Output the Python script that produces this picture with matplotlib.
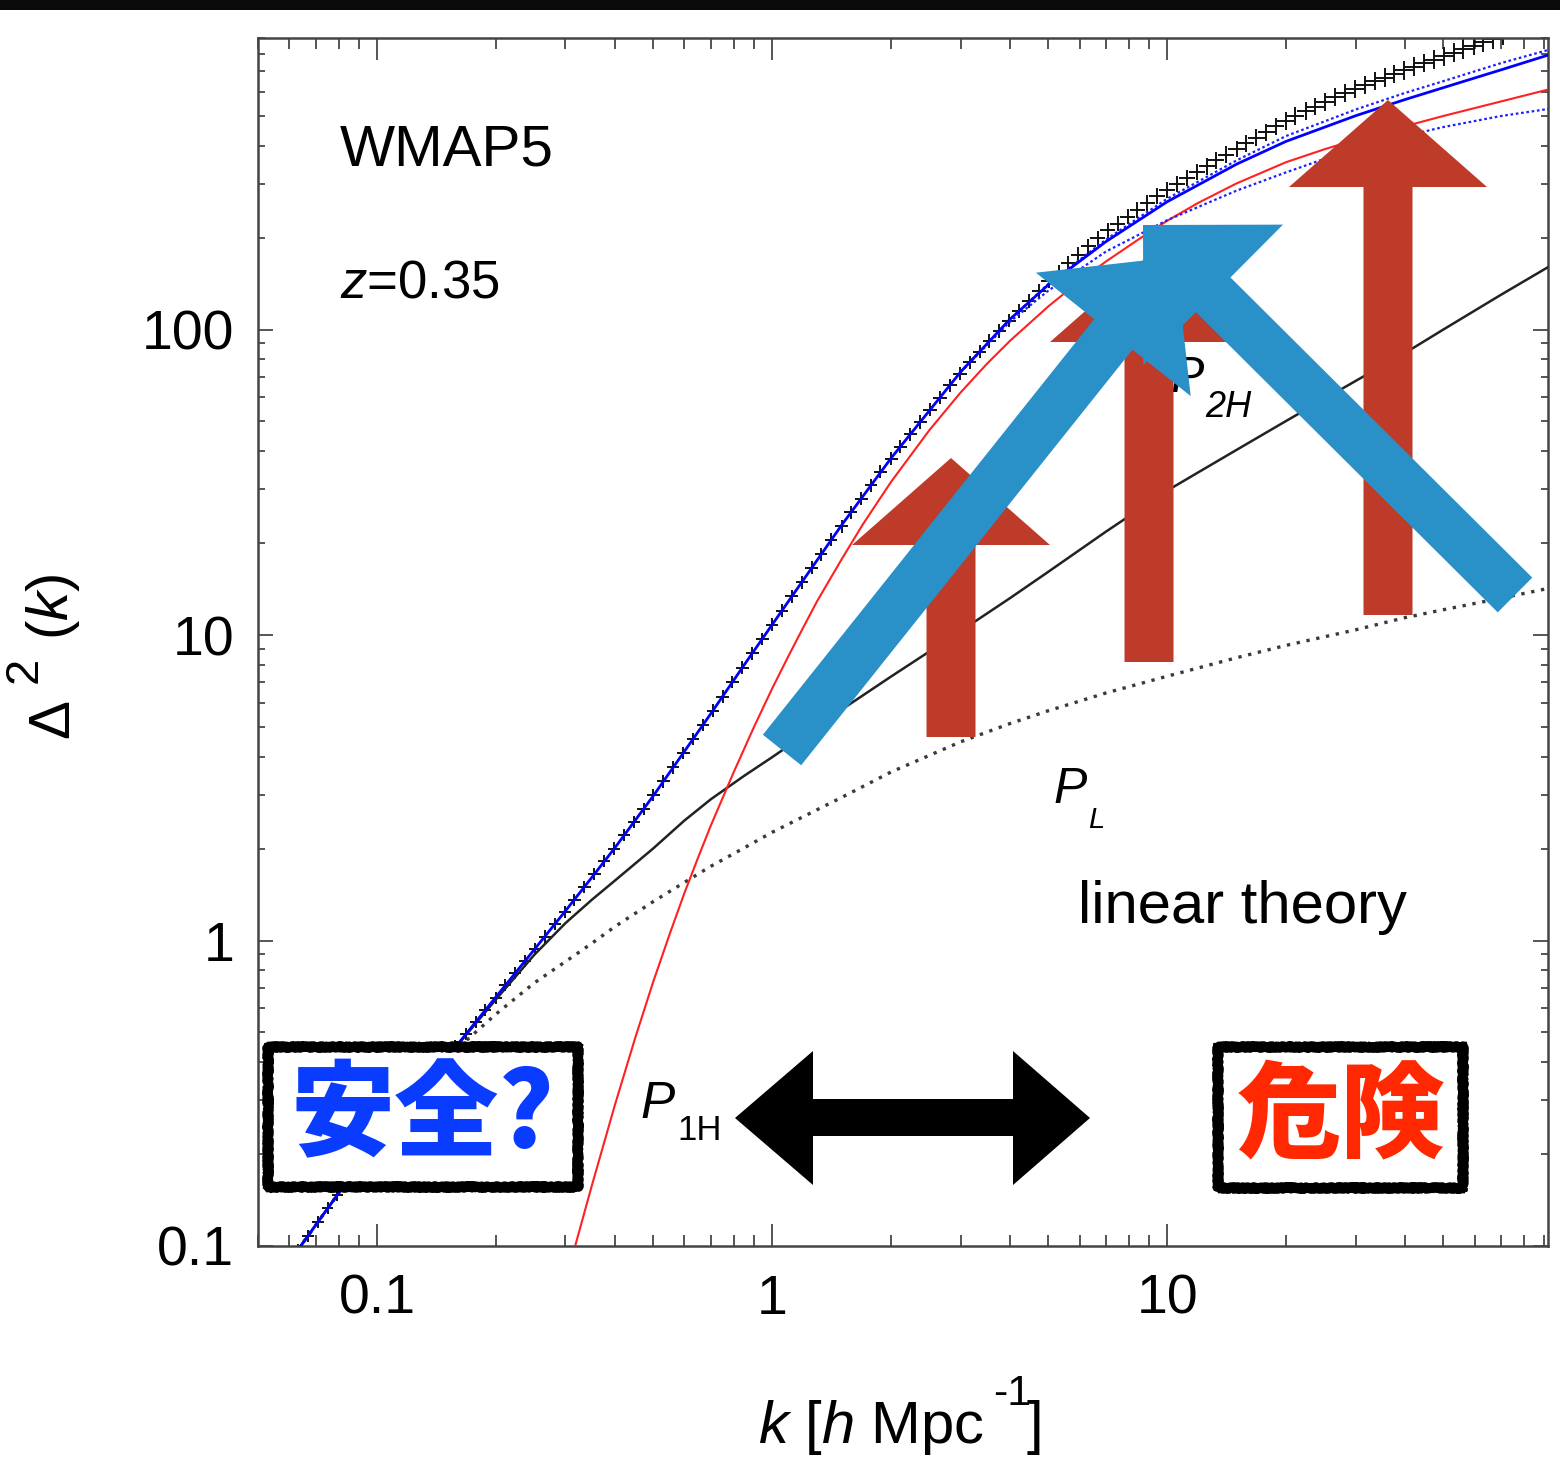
import matplotlib.pyplot as plt
import numpy as np
from matplotlib.patches import FancyArrow, Polygon, Rectangle
from matplotlib.ticker import NullFormatter
from matplotlib.transforms import Affine2D

plt.rcParams['font.family'] = ['Liberation Sans', 'DejaVu Sans']
plt.rcParams['mathtext.fontset'] = 'custom'
plt.rcParams['mathtext.rm'] = 'Liberation Sans'
plt.rcParams['mathtext.it'] = 'Liberation Sans:italic'

# model curves, Delta^2(k) on a common k grid [h/Mpc]
k_model = [0.05, 0.06, 0.08, 0.1, 0.15, 0.2, 0.25, 0.3, 0.35, 0.4, 0.5, 0.6,
           0.7, 0.85, 1, 1.5, 2, 3, 4, 5, 7, 10, 15, 20, 30, 40, 50, 70, 92]
halo_total = [0.0628, 0.0887, 0.149, 0.215, 0.412, 0.653, 0.933, 1.25, 1.61,
              2.01, 2.97, 4.16, 5.53, 7.98, 10.8, 22.9, 37.9, 72.6, 108, 140,
              194, 262, 348, 413, 501, 566, 619, 708, 791]
two_halo = [0.0628, 0.0887, 0.149, 0.215, 0.412, 0.641, 0.897, 1.14, 1.36,
            1.57, 2.0, 2.47, 2.90, 3.46, 3.98, 5.70, 7.31, 10.3, 13.2, 16.1,
            21.8, 29.7, 40.4, 50.2, 67.9, 83.8, 100, 130, 160]
linear = [0.0628, 0.0887, 0.149, 0.215, 0.412, 0.574, 0.726, 0.853, 0.979,
          1.11, 1.34, 1.55, 1.75, 2.01, 2.26, 2.94, 3.56, 4.47, 5.13, 5.65,
          6.46, 7.33, 8.43, 9.25, 10.4, 11.4, 12.1, 13.2, 14.2]

# one-halo term
k_1h = [0.3, 0.35, 0.4, 0.45, 0.5, 0.55, 0.6, 0.65, 0.7, 0.8, 0.9, 1, 1.1, 1.2,
        1.3, 1.5, 1.7, 2, 2.5, 3, 3.5, 4, 5, 6, 7, 8.5, 10, 12, 15, 20, 25, 30,
        40, 50, 70, 92]
one_halo = [0.0767, 0.158, 0.289, 0.478, 0.731, 1.045, 1.43, 1.87, 2.38, 3.56,
            5.00, 6.67, 8.53, 10.6, 12.9, 17.7, 23.1, 31.7, 46.8, 62.2, 77.3,
            91.8, 119, 144, 167, 198, 227, 260, 301, 353, 389, 418, 463, 500,
            558, 610]

# variants of the halo model at small scales
k_var = [3, 4, 5, 7, 10, 15, 20, 30, 40, 50, 70, 92]
halo_upper = [72.6, 108, 141, 197, 268, 358, 430, 525, 595, 650, 745, 822]
halo_lower = [72.6, 106, 134, 180, 228, 285, 327, 393, 430, 460, 500, 527]

# simulation measurements
k_sim = [0.0631, 0.0668, 0.0708, 0.0750, 0.0794, 0.0841, 0.0891, 0.0944, 0.1,
         0.106, 0.112, 0.119, 0.126, 0.133, 0.141, 0.150, 0.158, 0.168, 0.178,
         0.188, 0.2, 0.211, 0.224, 0.237, 0.251, 0.266, 0.282, 0.299, 0.316,
         0.335, 0.355, 0.376, 0.398, 0.422, 0.447, 0.473, 0.501, 0.531, 0.562,
         0.596, 0.631, 0.668, 0.708, 0.750, 0.794, 0.841, 0.891, 0.944, 1.0,
         1.06, 1.12, 1.19, 1.26, 1.33, 1.41, 1.50, 1.58, 1.68, 1.78, 1.88, 2.0,
         2.11, 2.24, 2.37, 2.51, 2.66, 2.82, 2.99, 3.16, 3.35, 3.55, 3.76, 3.98,
         4.22, 4.47, 4.73, 5.01, 5.31, 5.62, 5.96, 6.31, 6.68, 7.08, 7.50, 7.94,
         8.41, 8.91, 9.44, 10.0, 10.6, 11.2, 11.9, 12.6, 13.3, 14.1, 15.0, 15.8,
         16.8, 17.8, 18.8, 20.0, 21.1, 22.4, 23.7, 25.1, 26.6, 28.2, 29.9, 31.6,
         33.5, 35.5, 37.6, 39.8, 42.2, 44.7, 47.3, 50.1, 53.1, 56.2, 59.6, 63.1,
         66.8, 70.8]
d2_sim = [0.0973, 0.108, 0.120, 0.133, 0.147, 0.162, 0.178, 0.196, 0.215,
          0.236, 0.259, 0.284, 0.311, 0.341, 0.374, 0.410, 0.450, 0.493, 0.541,
          0.593, 0.650, 0.713, 0.782, 0.857, 0.940, 1.03, 1.13, 1.24, 1.36,
          1.50, 1.65, 1.82, 2.00, 2.21, 2.44, 2.70, 2.99, 3.32, 3.69, 4.11,
          4.57, 5.08, 5.65, 6.29, 7.01, 7.81, 8.71, 9.70, 10.8, 12.0, 13.4,
          14.9, 16.6, 18.4, 20.5, 22.7, 25.2, 27.9, 30.9, 34.2, 37.8, 41.4,
          45.4, 49.8, 54.6, 59.8, 65.6, 71.6, 78.2, 84.6, 91.6, 99.0, 107, 115,
          124, 134, 144, 154, 165, 176, 187, 199, 211, 222, 234, 246, 259, 273,
          287, 300, 313, 327, 342, 358, 374, 390, 407, 425, 443, 462, 482, 500,
          519, 537, 556, 576, 596, 614, 632, 650, 668, 687, 706, 725, 745, 765,
          785, 806, 828, 849, 871, 893, 916]

W, H = 1560, 1468
fig = plt.figure(figsize=(W / 100, H / 100), dpi=100)
ax = fig.add_axes([258 / W, 222 / H, 1290 / W, 1208 / H])
# pixel coordinates measured from the top-left corner of the figure
px = Affine2D().scale(0.01, -0.01).translate(0, H / 100) + fig.dpi_scale_trans

# markers grow a little towards small scales
sizes = np.interp(np.log10(k_sim), [-1.2, 0.5, 1.85], [70, 90, 200])
ax.scatter(k_sim, d2_sim, s=sizes, marker='+', linewidths=1.4, color='#111111', zorder=2)
ax.plot(k_model, linear, color='#3a3a3a', lw=2.4, ls=(0, (1, 2)), zorder=3)
ax.plot(k_model, two_halo, color='#222222', lw=1.8, zorder=3)
ax.plot(k_1h, one_halo, color='#ff2020', lw=1.5, zorder=3)
ax.plot(k_var, halo_upper, color='#2020ff', lw=1.6, ls=(0, (1.2, 1.2)), zorder=3)
ax.plot(k_var, halo_lower, color='#2020ff', lw=1.6, ls=(0, (1.2, 1.2)), zorder=3)
ax.plot(k_model, halo_total, color='#0000ff', lw=2.0, zorder=4)

ax.set_xscale('log')
ax.set_yscale('log')
ax.set_xlim(0.05, 92)
ax.set_ylim(0.1, 900)
ax.set_xticks([0.1, 1, 10])
ax.set_xticklabels(['0.1', '1', '10'])
ax.set_yticks([0.1, 1, 10, 100])
ax.set_yticklabels(['0.1', '1', '10', '100'])
ax.xaxis.set_minor_formatter(NullFormatter())
ax.yaxis.set_minor_formatter(NullFormatter())
ax.tick_params(axis='x', which='major', direction='in', top=True, length=16,
               width=1.4, color='#555555', labelsize=40, pad=20)
ax.tick_params(axis='x', which='minor', direction='in', top=True, length=8,
               width=1.4, color='#555555')
ax.tick_params(axis='y', which='major', direction='in', right=True, length=11,
               width=1.4, color='#555555', labelsize=40, pad=17)
ax.tick_params(axis='y', which='minor', direction='in', right=True, length=5,
               width=1.4, color='#555555')
for s in ax.spines.values():
    s.set_linewidth(1.8)
    s.set_color('#444444')

# axis labels
ax.text(758, 1443, r'$k$ [$h$ Mpc', transform=px, fontsize=43, va='baseline')
ax.text(993, 1405, '-1', transform=px, fontsize=31, va='baseline')
ax.text(1027, 1443, ']', transform=px, fontsize=43, va='baseline')
ylab = dict(transform=px, rotation=90, rotation_mode='anchor', ha='left', va='baseline')
ax.text(68, 738, '\u0394', fontsize=42, **ylab)
ax.text(37, 683, '2', fontsize=34, **ylab)
ax.text(68, 640, r'$(k)$', fontsize=42, **ylab)

# annotations inside the frame
ax.text(340, 165, 'WMAP5', transform=px, fontsize=42, va='baseline')
ax.text(340, 298, r'$z$=0.35', transform=px, fontsize=38, va='baseline')
ax.text(1053, 803, 'P', transform=px, fontsize=36, style='italic', va='baseline')
ax.text(1088, 828, 'L', transform=px, fontsize=21, style='italic', va='baseline')
ax.text(1170, 392, 'P', transform=px, fontsize=36, style='italic', va='baseline')
ax.text(1205, 417, '2H', transform=px, fontsize=26, style='italic', va='baseline')
ax.text(640, 1118, 'P', transform=px, fontsize=37, style='italic', va='baseline')
ax.text(677, 1140, '1H', transform=px, fontsize=25, va='baseline')
ax.text(1078, 923, 'linear theory', transform=px, fontsize=43, va='baseline')


def block_arrow(x0, y0, x1, y1, color, head_length):
    a = FancyArrow(x0, y0, x1 - x0, y1 - y0, width=49, head_width=198,
                   head_length=head_length, length_includes_head=True,
                   transform=px, color=color, lw=0, zorder=1)
    fig.add_artist(a)


red = '#bd3b28'
blue = '#2a90c8'
block_arrow(951, 737, 951, 458, red, 87)
block_arrow(1149, 662, 1149, 255, red, 87)
block_arrow(1388, 615, 1388, 100, red, 87)
block_arrow(782, 750, 1175, 257, blue, 99)
block_arrow(1515, 595, 1143, 225, blue, 99)

# double-headed arrow between the two regimes
dbl = [(735, 1118), (813, 1051), (813, 1099), (1013, 1099), (1013, 1051),
       (1090, 1118), (1013, 1185), (1013, 1136), (813, 1136), (813, 1185)]
fig.add_artist(Polygon(dbl, closed=True, transform=px, color='black', lw=0, zorder=1))


def rough_box(x0, y0, x1, y1):
    r = Rectangle((x0, y0), x1 - x0, y1 - y0, transform=px, facecolor='white',
                  edgecolor='black', lw=7, joinstyle='round', zorder=2)
    r.set_sketch_params(scale=1.0, length=3, randomness=5)
    fig.add_artist(r)
    for off, sc in [(-3, 1.5), (3, 1.2)]:
        e = Rectangle((x0 + off, y0 + off), x1 - x0 - 2 * off, y1 - y0 - 2 * off,
                      transform=px, facecolor='none', edgecolor='black', lw=1.6,
                      joinstyle='round', zorder=2)
        e.set_sketch_params(scale=sc, length=2, randomness=6)
        fig.add_artist(e)


rough_box(268, 1047, 578, 1187)
rough_box(1218, 1047, 1463, 1188)
fig.text(423, 1117, '安全?', transform=px, fontsize=75, fontweight='heavy',
         color='#0a3cff', ha='center', va='center', zorder=3,
         family=['Noto Sans CJK JP', 'DejaVu Sans'])
fig.text(1341, 1117, '危険', transform=px, fontsize=75, fontweight='heavy',
         color='#ff2800', ha='center', va='center', zorder=3,
         family=['Noto Sans CJK JP', 'DejaVu Sans'])

# dark strip along the top edge
fig.add_artist(Rectangle((0, 0), W, 10, transform=px, color='#0a0a0a', lw=0, zorder=1))

plt.savefig('out.png', dpi=100)
